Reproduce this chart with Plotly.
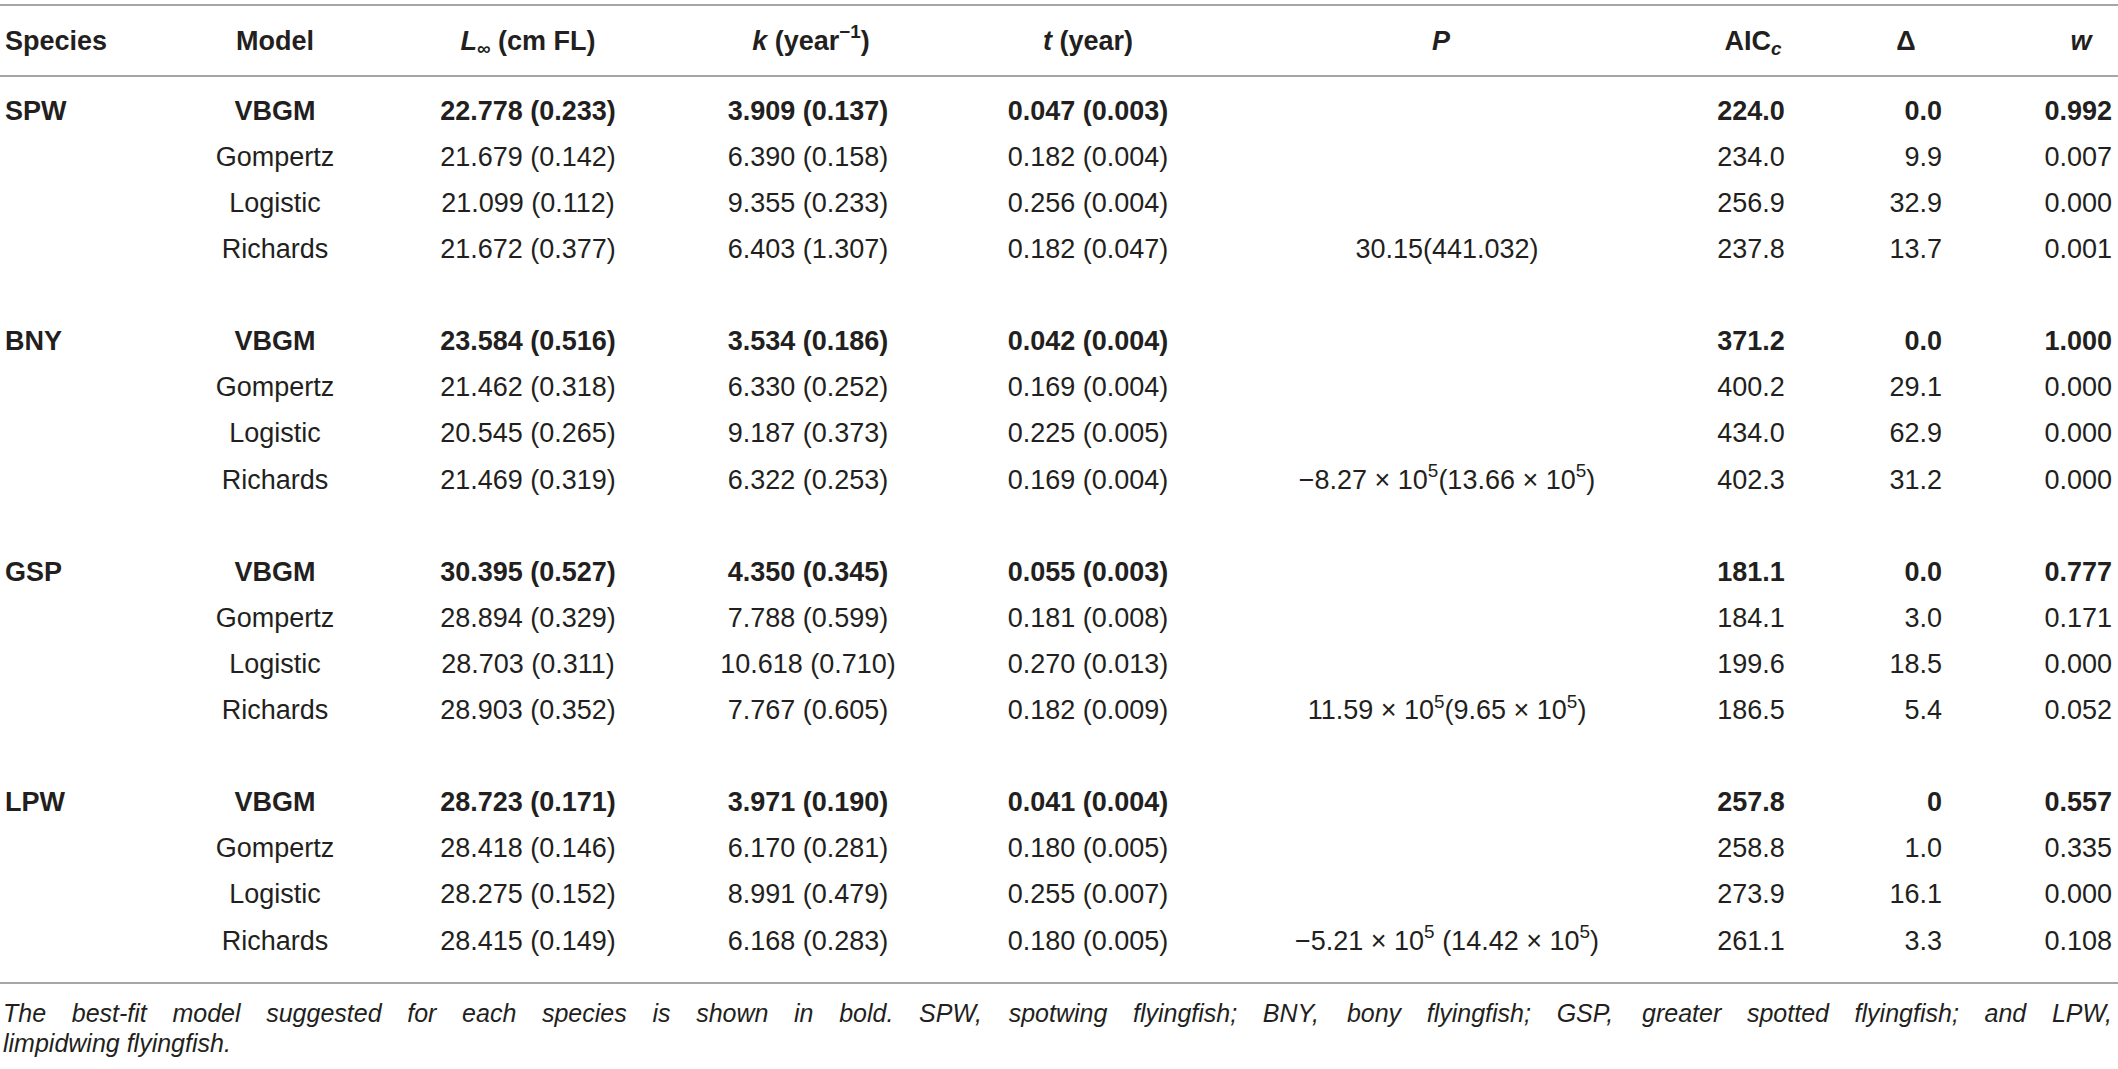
import plotly.graph_objects as go

# table data
species = ["SPW", "BNY", "GSP", "LPW"]
models = ["VBGM", "Gompertz", "Logistic", "Richards"]

linf = [[22.778, 21.679, 21.099, 21.672],
        [23.584, 21.462, 20.545, 21.469],
        [30.395, 28.894, 28.703, 28.903],
        [28.723, 28.418, 28.275, 28.415]]
linf_se = [[0.233, 0.142, 0.112, 0.377],
           [0.516, 0.318, 0.265, 0.319],
           [0.527, 0.329, 0.311, 0.352],
           [0.171, 0.146, 0.152, 0.149]]
k = [[3.909, 6.390, 9.355, 6.403],
     [3.534, 6.330, 9.187, 6.322],
     [4.350, 7.788, 10.618, 7.767],
     [3.971, 6.170, 8.991, 6.168]]
k_se = [[0.137, 0.158, 0.233, 1.307],
        [0.186, 0.252, 0.373, 0.253],
        [0.345, 0.599, 0.710, 0.605],
        [0.190, 0.281, 0.479, 0.283]]
t = [[0.047, 0.182, 0.256, 0.182],
     [0.042, 0.169, 0.225, 0.169],
     [0.055, 0.181, 0.270, 0.182],
     [0.041, 0.180, 0.255, 0.180]]
t_se = [[0.003, 0.004, 0.004, 0.047],
        [0.004, 0.004, 0.005, 0.004],
        [0.003, 0.008, 0.013, 0.009],
        [0.004, 0.005, 0.007, 0.005]]
p_richards = ["30.15(441.032)",
              "\u22128.27 \u00d7 10<sup>5</sup>(13.66 \u00d7 10<sup>5</sup>)",
              "11.59 \u00d7 10<sup>5</sup>(9.65 \u00d7 10<sup>5</sup>)",
              "\u22125.21 \u00d7 10<sup>5</sup> (14.42 \u00d7 10<sup>5</sup>)"]
aicc = [[224.0, 234.0, 256.9, 237.8],
        [371.2, 400.2, 434.0, 402.3],
        [181.1, 184.1, 199.6, 186.5],
        [257.8, 258.8, 273.9, 261.1]]
delta = [["0.0", "9.9", "32.9", "13.7"],
         ["0.0", "29.1", "62.9", "31.2"],
         ["0.0", "3.0", "18.5", "5.4"],
         ["0", "1.0", "16.1", "3.3"]]
weight = [[0.992, 0.007, 0.000, 0.001],
          [1.000, 0.000, 0.000, 0.000],
          [0.777, 0.171, 0.000, 0.052],
          [0.557, 0.335, 0.000, 0.108]]

headers = ["Species", "Model", "<i>L</i><sub>\u221e</sub> (cm FL)",
           "<i>k</i> (year<sup>\u22121</sup>)", "<i>t</i> (year)", "<i>P</i>",
           "AIC<sub><i>c</i></sub>", "\u0394", "<i>w</i>"]

note1 = ("The best-fit model suggested for each species is shown in bold. SPW, "
         "spotwing flyingfish; BNY, bony flyingfish; GSP, greater spotted "
         "flyingfish; and LPW,")
note2 = "limpidwing flyingfish."

# layout constants (pixels)
W, H = 2118, 1069
ink = "#231f20"
font = "Liberation Sans"
fs = 27
row0, step = 113, 46.1
header_y = 43
col_x = [5, 275, 528, 808, 1088, 1447, 1751, 1942, 2112]
col_pos = ["middle right", "middle center", "middle center", "middle center",
           "middle center", "middle center", "middle center", "middle left",
           "middle left"]
head_x = [5, 275, 528, 811, 1088, 1441, 1753, 1906, 2081]
head_pos = ["middle right"] + ["middle center"] * 8

# build cell text per column (empty cells are skipped)
cols_txt = [[] for _ in range(9)]
cols_y = [[] for _ in range(9)]
for g, sp in enumerate(species):
    for m, mod in enumerate(models):
        y = row0 + (g * 5 + m) * step
        cells = [
            sp if m == 0 else "",
            mod,
            f"{linf[g][m]:.3f} ({linf_se[g][m]:.3f})",
            f"{k[g][m]:.3f} ({k_se[g][m]:.3f})",
            f"{t[g][m]:.3f} ({t_se[g][m]:.3f})",
            p_richards[g] if mod == "Richards" else "",
            f"{aicc[g][m]:.1f}",
            delta[g][m],
            f"{weight[g][m]:.3f}",
        ]
        for c, txt in enumerate(cells):
            if not txt:
                continue
            if m == 0:
                txt = "<b>" + txt + "</b>"
            cols_txt[c].append(txt)
            cols_y[c].append(y)

fig = go.Figure()

for c in range(9):
    fig.add_trace(go.Scatter(
        x=[col_x[c]] * len(cols_y[c]), y=cols_y[c], text=cols_txt[c],
        mode="text", textposition=col_pos[c], hoverinfo="skip",
        textfont=dict(family=font, size=fs, color=ink)
    ))

fig.add_trace(go.Scatter(
    x=head_x, y=[header_y] * 9, text=["<b>" + h + "</b>" for h in headers],
    mode="text", textposition=head_pos, hoverinfo="skip",
    textfont=dict(family=font, size=fs, color=ink)
))

# horizontal rules
for yl in [5, 76, 983]:
    fig.add_trace(go.Scatter(
        x=[0, W], y=[yl, yl], mode="lines", hoverinfo="skip",
        line=dict(color="#a6a6a6", width=2)
    ))

# footnote, first line spread to full width
widths = {" ": 278, ",": 278, ".": 278, ";": 278, "-": 333,
          "a": 556, "b": 556, "c": 500, "d": 556, "e": 556, "f": 278,
          "g": 556, "h": 556, "i": 222, "j": 222, "k": 500, "l": 222,
          "m": 833, "n": 556, "o": 556, "p": 556, "q": 556, "r": 333,
          "s": 500, "t": 278, "u": 556, "v": 500, "w": 722, "x": 500,
          "y": 500, "z": 500, "T": 611, "S": 667, "P": 667, "W": 944,
          "B": 667, "N": 722, "Y": 667, "G": 778, "L": 556}
nfs = 25
words = note1.split(" ")
ww = [sum(widths.get(ch, 556) for ch in wd) * nfs / 1000 for wd in words]
gap = (W - 8 - sum(ww)) / (len(words) - 1)
wx = []
pos = 3
for w_ in ww:
    wx.append(pos)
    pos += w_ + gap

fig.add_trace(go.Scatter(
    x=wx + [3], y=[1016] * len(words) + [1046], text=words + [note2],
    mode="text", textposition="middle right", hoverinfo="skip",
    textfont=dict(family=font, size=nfs, color=ink, style="italic")
))

fig.update_layout(
    width=W, height=H, margin=dict(l=0, r=0, t=0, b=0),
    paper_bgcolor="white", plot_bgcolor="white", showlegend=False,
    xaxis=dict(range=[0, W], visible=False, fixedrange=True),
    yaxis=dict(range=[H, 0], visible=False, fixedrange=True),
)

fig.write_html("out.html", config={"displayModeBar": False},
               post_script="document.body.style.margin='0';")
